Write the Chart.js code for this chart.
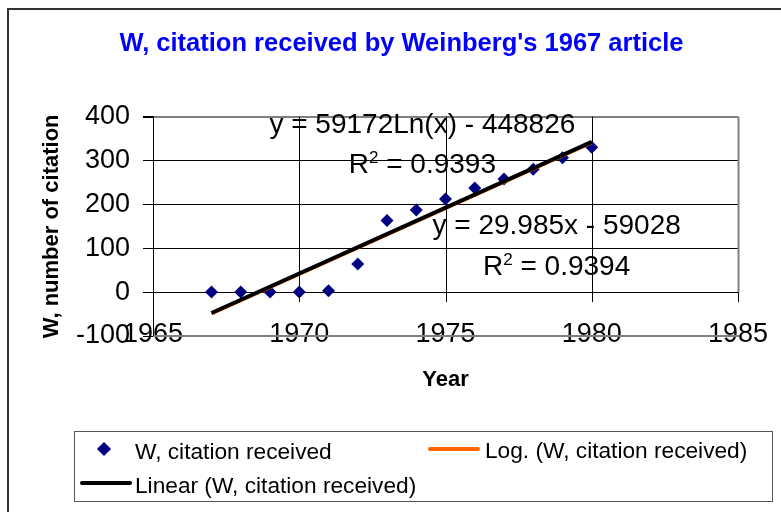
<!DOCTYPE html>
<html>
<head>
<meta charset="utf-8">
<title>W, citation received by Weinberg's 1967 article</title>
<script src="https://cdn.jsdelivr.net/npm/chart.js@4.4.1/dist/chart.umd.min.js"></script>
<style>
  html, body { margin: 0; padding: 0; background: #fff; overflow: hidden; }
  #wrap { position: relative; width: 781px; height: 512px; }
  #chart { position: absolute; left: 0; top: 0; }
  #frame { position: absolute; left: 7px; top: 8px; width: 820px; height: 540px; border: 2px solid #333; pointer-events: none; }
  #legend { position: absolute; left: 74px; top: 431px; width: 697px; height: 69px; border: 1px solid #555;
            font: 22.7px "Liberation Sans", Arial, sans-serif; color: #000; }
  #legend .txt { position: absolute; height: 26px; line-height: 26px; white-space: nowrap; }
  #legend .sym { position: absolute; }
</style>
</head>
<body>
<div id="wrap">
  <canvas id="chart" width="781" height="512"></canvas>
  <div id="frame"></div>
  <div id="legend"></div>
</div>
<script>
// data
const years = [1967, 1968, 1969, 1970, 1971, 1972, 1973, 1974, 1975, 1976, 1977, 1978, 1979, 1980];
const citations = [0, 0, 0, 0, 3, 64, 163, 187, 212, 237, 258, 280, 306, 330];

// trendline end points (from the equations shown on the chart)
const trendYears = [1967, 1980];
const linearTrend = [-47.5, 342.3];
const logTrend = [-49.8, 339.9];

const xTicks = [1965, 1970, 1975, 1980, 1985];
const yTicks = [-100, 0, 100, 200, 300, 400];

const FONT = '"Liberation Sans", Arial, sans-serif';

// equation labels, anchored in data units
const fitLabels = [
  { x: 1974.21, y: 386, text: 'y = 59172Ln(x) - 448826' },
  { x: 1974.21, y: 295, r2: '0.9393' },
  { x: 1978.8, y: 156, text: 'y = 29.985x - 59028' },
  { x: 1978.8, y: 62, r2: '0.9394' }
];

// vertical grid lines stop just below the zero line (Excel style)
const xGridPlugin = {
  id: 'xGrid',
  beforeDatasetsDraw(chart) {
    const { ctx, chartArea, scales: { x, y } } = chart;
    const y0 = y.getPixelForValue(0);
    ctx.save();
    xTicks.slice(1).forEach((v, i, arr) => {
      const px = Math.round(x.getPixelForValue(v)) + 0.5;
      const last = i === arr.length - 1;
      ctx.strokeStyle = last ? '#808080' : '#000';
      ctx.lineWidth = last ? 2 : 1;
      ctx.beginPath();
      ctx.moveTo(px, chartArea.top);
      ctx.lineTo(px, last ? y0 : y0 + 10);
      ctx.stroke();
      if (last) {
        ctx.strokeStyle = '#000';
        ctx.lineWidth = 1;
        ctx.beginPath();
        ctx.moveTo(px, y0);
        ctx.lineTo(px, y0 + 10);
        ctx.stroke();
      }
    });
    // x axis line at zero
    ctx.strokeStyle = '#000';
    ctx.lineWidth = 1;
    ctx.beginPath();
    ctx.moveTo(chartArea.left, Math.round(y0) + 0.5);
    ctx.lineTo(chartArea.right, Math.round(y0) + 0.5);
    ctx.stroke();
    ctx.restore();
  },
  // grey bottom frame line at the axis minimum, over the year labels
  afterDraw(chart) {
    const { ctx, chartArea, scales: { y } } = chart;
    const yMin = Math.round(y.getPixelForValue(yTicks[0]));
    ctx.save();
    ctx.strokeStyle = '#7f7f7f';
    ctx.lineWidth = 2;
    ctx.beginPath();
    ctx.moveTo(chartArea.left, yMin);
    ctx.lineTo(chartArea.right + 1, yMin);
    ctx.stroke();
    ctx.strokeStyle = '#000';
    ctx.lineWidth = 1;
    const xl = Math.round(chartArea.left) + 0.5;
    ctx.beginPath();
    ctx.moveTo(xl, chartArea.top);
    ctx.lineTo(xl, yMin);
    ctx.stroke();
    ctx.restore();
  }
};

const fitLabelPlugin = {
  id: 'fitLabels',
  afterDatasetsDraw(chart) {
    const { ctx, scales: { x, y } } = chart;
    ctx.save();
    ctx.fillStyle = '#000';
    ctx.textBaseline = 'alphabetic';
    fitLabels.forEach(l => {
      const cx = x.getPixelForValue(l.x);
      const cy = y.getPixelForValue(l.y);
      const base = cy + 10;
      ctx.font = '28px ' + FONT;
      if (l.text) {
        ctx.textAlign = 'center';
        ctx.fillText(l.text, cx, base);
        return;
      }
      ctx.textAlign = 'left';
      const rest = ' = ' + l.r2;
      const wR = ctx.measureText('R').width;
      const wRest = ctx.measureText(rest).width;
      ctx.font = '17px ' + FONT;
      const w2 = ctx.measureText('2').width;
      let sx = cx - (wR + w2 + wRest) / 2;
      ctx.font = '28px ' + FONT;
      ctx.fillText('R', sx, base);
      ctx.font = '17px ' + FONT;
      ctx.fillText('2', sx + wR, base - 10);
      ctx.font = '28px ' + FONT;
      ctx.fillText(rest, sx + wR + w2, base);
    });
    ctx.restore();
  }
};

const chart = new Chart(document.getElementById('chart'), {
  type: 'scatter',
  data: {
    datasets: [
      {
        label: 'W, citation received',
        data: years.map((yr, i) => ({ x: yr, y: citations[i] })),
        pointStyle: 'rectRot',
        pointRadius: 6.5,
        backgroundColor: '#000080',
        borderColor: '#000080',
        borderWidth: 0,
        order: 3
      },
      {
        label: 'Log. (W, citation received)',
        data: trendYears.map((yr, i) => ({ x: yr, y: logTrend[i] })),
        showLine: true,
        pointRadius: 0,
        borderColor: '#ff6600',
        borderWidth: 3,
        order: 2
      },
      {
        label: 'Linear (W, citation received)',
        data: trendYears.map((yr, i) => ({ x: yr, y: linearTrend[i] })),
        showLine: true,
        pointRadius: 0,
        borderColor: '#000',
        borderWidth: 4,
        order: 1
      }
    ]
  },
  options: {
    responsive: false,
    animation: false,
    layout: { padding: { left: 22, right: 0, top: 0, bottom: 119 } },
    plugins: {
      legend: { display: false },
      tooltip: { enabled: false },
      title: {
        display: true,
        text: "W, citation received by Weinberg's 1967 article",
        color: '#0000ff',
        font: { family: FONT, size: 25.5, weight: 'bold' },
        padding: { top: 29, bottom: 57 }
      }
    },
    scales: {
      x: {
        type: 'linear',
        min: 1965,
        max: 1985,
        afterBuildTicks: s => { s.ticks = xTicks.map(v => ({ value: v })); },
        afterFit: s => { s.height = 57; },
        ticks: {
          color: '#000',
          font: { family: FONT, size: 27 },
          mirror: true,
          padding: -15,
          maxRotation: 0,
          autoSkip: false,
          callback: v => String(v)
        },
        grid: { display: false },
        border: { display: false },
        title: {
          display: true,
          text: 'Year',
          color: '#000',
          font: { family: FONT, size: 22, weight: 'bold' },
          padding: { top: 0, bottom: 0 }
        }
      },
      y: {
        type: 'linear',
        min: -100,
        max: 400,
        afterBuildTicks: s => { s.ticks = yTicks.map(v => ({ value: v })); },
        afterFit: s => { s.width = 131; },
        ticks: {
          color: '#000',
          font: { family: FONT, size: 27 },
          padding: 13,
          callback: v => String(v)
        },
        grid: {
          color: c => (c.tick && c.tick.value === 400) ? '#808080' : (c.tick && c.tick.value === -100) ? 'rgba(0,0,0,0)' : '#000',
          lineWidth: c => (c.tick && c.tick.value === 400) ? 2 : 1,
          tickColor: '#000',
          tickLength: 10
        },
        border: { display: true, color: '#000', width: 1 },
        title: {
          display: true,
          text: 'W, number of citation',
          color: '#000',
          font: { family: FONT, size: 22, weight: 'bold' },
          padding: { top: 17, bottom: 0 }
        }
      },
      // empty right-hand box that only keeps the plot clear of the right edge
      yRight: {
        type: 'linear',
        position: 'right',
        min: 0,
        max: 1,
        afterFit: s => { s.width = 43; },
        ticks: { display: false },
        grid: { display: false, drawTicks: false },
        border: { display: false }
      }
    }
  },
  plugins: [xGridPlugin, fitLabelPlugin]
});

// legend box laid out like the Excel one (2 columns)
const legendSlots = [
  { sym: { left: 24, top: 12 }, txt: { left: 60, top: 6 } },
  { sym: { left: 353, top: 15 }, txt: { left: 410, top: 5 } },
  { sym: { left: 5, top: 49 }, txt: { left: 60, top: 40 } }
];
const legendEl = document.getElementById('legend');
chart.data.datasets.forEach((ds, i) => {
  const slot = legendSlots[i];
  const sym = document.createElement('div');
  sym.className = 'sym';
  if (ds.pointStyle === 'rectRot') {
    Object.assign(sym.style, {
      left: slot.sym.left + 'px', top: slot.sym.top + 'px',
      width: '10px', height: '10px', background: ds.backgroundColor,
      transform: 'rotate(45deg)', transformOrigin: 'center'
    });
  } else {
    Object.assign(sym.style, {
      left: slot.sym.left + 'px', top: slot.sym.top + 'px',
      width: '52px', height: '4px', background: ds.borderColor,
      borderRadius: '2px'
    });
  }
  const txt = document.createElement('div');
  txt.className = 'txt';
  txt.style.left = slot.txt.left + 'px';
  txt.style.top = slot.txt.top + 'px';
  txt.textContent = ds.label;
  legendEl.appendChild(sym);
  legendEl.appendChild(txt);
});
</script>
</body>
</html>
